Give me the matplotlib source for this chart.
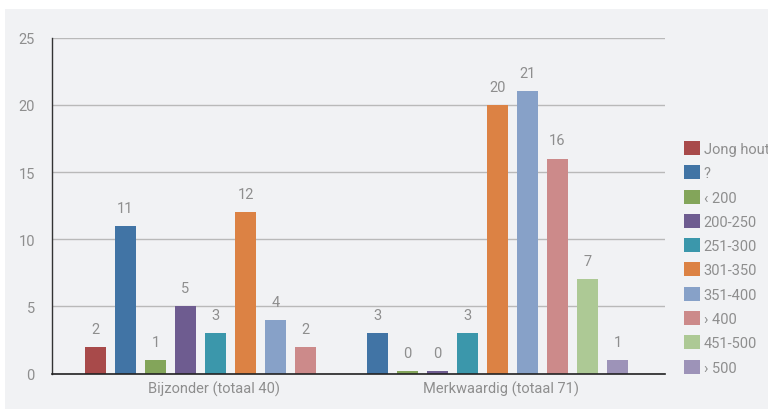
import matplotlib.pyplot as plt
from matplotlib.patches import Patch, Rectangle

plt.rcParams['font.family'] = ['Roboto', 'DejaVu Sans']

groups = ['Bijzonder (totaal 40)', 'Merkwaardig (totaal 71)']
classes = ['Jong hout', '?', '‹ 200', '200-250', '251-300', '301-350',
           '351-400', '› 400', '451-500', '› 500']
bijzonder = [2, 11, 1, 5, 3, 12, 4, 2, None, None]
merkwaardig = [None, 3, 0, 0, 3, 20, 21, 16, 7, 1]
colors = ['#a84a4a', '#4174a5', '#83a55a', '#6e5c90', '#3b97ab',
          '#dc8244', '#87a1c8', '#cc8a8a', '#adc995', '#9d93b8']

txt = '#8e8e8e'
bg = '#f1f2f4'

fig = plt.figure(figsize=(7.68, 4.10), dpi=100, facecolor='white')
# light grey panel behind the chart
fig.patches.append(Rectangle((5 / 768, 0), 1, 400 / 410, transform=fig.transFigure,
                             facecolor=bg, edgecolor='none', zorder=-10))
ax = fig.add_axes([51.5 / 768, 35.5 / 410, 613.5 / 768, 335.8 / 410])
ax.set_facecolor('none')

# first bar of each group, in slot units
starts = [1.467, 10.867]
label_pos = [5.41, 14.98]

for g, vals in enumerate([bijzonder, merkwaardig]):
    k = 0
    for i, v in enumerate(vals):
        if v is None:
            continue
        x = starts[g] + k
        h = v if v > 0 else 0.15
        ax.bar(x, h, width=0.7, color=colors[i], zorder=3)
        ax.annotate(str(v), (x, h), xytext=(0, 8), textcoords='offset points',
                    ha='center', va='bottom', fontsize=10.5, color=txt)
        k += 1

ax.set_xlim(0, 613.5 / 30)
ax.set_ylim(0, 25)
ax.set_yticks([0, 5, 10, 15, 20, 25])
ax.set_xticks(label_pos)
ax.set_xticklabels(groups)
ax.tick_params(axis='both', length=0, labelsize=10.5, labelcolor=txt)
ax.tick_params(axis='y', pad=12)
ax.tick_params(axis='x', pad=5)
ax.grid(axis='y', color='#b9b9b9', linewidth=1, zorder=0)
for s in ['top', 'right']:
    ax.spines[s].set_visible(False)
ax.spines['left'].set_color('#333333')
ax.spines['bottom'].set_color('#222222')
ax.spines['left'].set_linewidth(1)
ax.spines['bottom'].set_linewidth(1.2)
ax.spines['bottom'].set_zorder(4)

handles = [Patch(facecolor=c, edgecolor='none', label=l) for c, l in zip(colors, classes)]
leg = fig.legend(handles=handles, loc='upper left', bbox_to_anchor=(684 / 768, 1 - 142 / 410),
                 frameon=False, fontsize=10.5, labelcolor=txt, handlelength=1.1,
                 handleheight=1.1, handletextpad=0.25, labelspacing=0.64,
                 borderaxespad=0, borderpad=0)

fig.savefig('out.png', dpi=100, facecolor='white')
